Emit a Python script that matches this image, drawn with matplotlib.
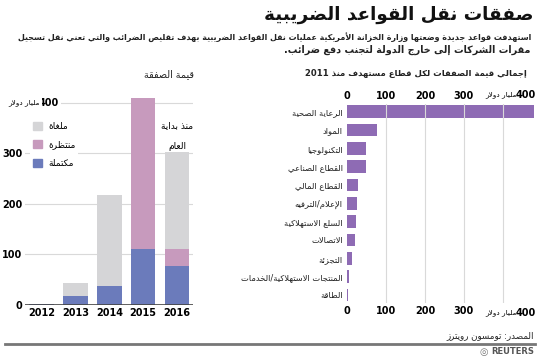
import re
import matplotlib
matplotlib.use("Agg")
import matplotlib.pyplot as plt
from matplotlib.patches import Patch

plt.rcParams['font.family'] = ['DejaVu Sans']

# --- minimal Arabic shaping (presentation forms) + RTL ordering ---
FORMS = {}
_code = 0xFE80
for _cp in list(range(0x0621, 0x063B)) + list(range(0x0641, 0x064B)):
    _ch = chr(_cp)
    if _ch == 'ء':
        _n = 1
    elif _ch in 'آأؤإادذرزةوى':
        _n = 2
    else:
        _n = 4
    FORMS[_ch] = [chr(_code + k) for k in range(_n)]
    _code += _n
LAM_ALEF = {'ا': 0xFEFB, 'أ': 0xFEF7, 'إ': 0xFEF9, 'آ': 0xFEF5}


def ar(text):
    out = []
    i = 0
    n = len(text)
    while i < n:
        c = text[i]
        if c not in FORMS:
            out.append(c)
            i += 1
            continue
        prev = text[i - 1] if i > 0 else ''
        p = prev in FORMS and len(FORMS[prev]) == 4
        if c == 'ل' and i + 1 < n and text[i + 1] in LAM_ALEF:
            lig = LAM_ALEF[text[i + 1]]
            out.append(chr(lig + 1) if p else chr(lig))
            i += 2
            continue
        nxt = text[i + 1] if i + 1 < n else ''
        f = FORMS[c]
        q = len(f) == 4 and nxt in FORMS
        if p and q:
            out.append(f[3])
        elif p:
            out.append(f[1])
        elif q:
            out.append(f[2])
        else:
            out.append(f[0])
        i += 1
    s = ''.join(out)[::-1]
    return re.sub(r'[0-9]+', lambda m: m.group(0)[::-1], s)


# --- data ---
years = ['2012', '2013', '2014', '2015', '2016']
completed = [2, 17, 37, 111, 78]
pending = [0, 0, 0, 299, 33]
cancelled = [0, 26, 180, 0, 191]

sectors = ['الرعاية الصحية', 'المواد', 'التكنولوجيا', 'القطاع الصناعي', 'القطاع المالي',
           'الإعلام/الترفيه', 'السلع الاستهلاكية', 'الاتصالات', 'التجزئة',
           'المنتجات الاستهلاكية/الخدمات', 'الطاقة']
sector_values = [480, 78, 49, 48, 27, 26, 24, 21, 14, 6, 2]

c_blue = '#6b7bbb'
c_pink = '#c79abd'
c_gray = '#d5d5d7'
c_purple = '#8e6bb4'
c_grid = '#d9d9d9'

W, H = 550, 358
fig = plt.figure(figsize=(W / 100, H / 100), dpi=100)
renderer = fig.canvas.get_renderer()


def px(x0, y0, x1, y1):
    # pixel box (top-left origin) -> figure fraction rect
    return [x0 / W, 1 - y1 / H, (x1 - x0) / W, (y1 - y0) / H]


def ftext(x, y, s, width=None, **kw):
    t = fig.text(x / W, 1 - y / H, s, **kw)
    if width:
        # shrink/grow font so the text spans the same width as the reference
        w = t.get_window_extent(renderer).width
        t.set_fontsize(t.get_fontsize() * width / w)
    return t


# header
ftext(533, 15, ar('صفقات نقل القواعد الضريبية'), width=268, ha='right', va='center',
      fontsize=13, fontweight='bold', color='#111')
ftext(531, 37, ar('استهدفت قواعد جديدة وضعتها وزارة الخزانة الأمريكية عمليات نقل القواعد الضريبية بهدف تقليص الضرائب والتي تعني نقل تسجيل'),
      width=518, ha='right', va='center', fontsize=7, fontweight='bold', color='#222')
ftext(531, 50, ar('مقرات الشركات إلى خارج الدولة لتجنب دفع ضرائب.'), width=248,
      ha='right', va='center', fontsize=7, fontweight='bold', color='#222')

# --- left: stacked columns ---
ax1 = fig.add_axes(px(25, 92.5, 193, 305))
x = range(len(years))
ax1.bar(x, completed, width=0.72, color=c_blue, zorder=2)
ax1.bar(x, pending, width=0.72, bottom=completed, color=c_pink, zorder=2)
bot2 = [a + b for a, b in zip(completed, pending)]
ax1.bar(x, cancelled, width=0.72, bottom=bot2, color=c_gray, zorder=2)
ax1.set_xlim(-0.49, 4.47)
ax1.set_ylim(0, 420)
for s in ax1.spines.values():
    s.set_visible(False)
ax1.axhline(0, color='#444', lw=1.2, zorder=3)
for v in [100, 200, 300, 400]:
    ax1.axhline(v, color=c_grid, lw=0.8, zorder=1)
ax1.set_xticks(list(x))
ax1.set_xticklabels(years, fontsize=7, fontweight='bold')
ax1.set_yticks([0, 100, 200, 300])
ax1.set_yticklabels(['0', '100', '200', '300'], fontsize=7, fontweight='bold')
ax1.tick_params(length=0, pad=2)
wb = dict(facecolor='white', edgecolor='none', pad=1.2)
ax1.text((59 - 25) / 168, 400, '400', transform=ax1.get_yaxis_transform(),
         ha='right', va='center', fontsize=7, fontweight='bold', bbox=wb, zorder=4)
ax1.text((40 - 25) / 168, 400, ar('مليار دولار'), transform=ax1.get_yaxis_transform(),
         ha='right', va='center', fontsize=5.3, bbox=wb, zorder=4, clip_on=False)
ax1.text(4, 355, ar('منذ بداية'), ha='center', va='center', fontsize=6.5)
ax1.text(4, 313, ar('العام'), ha='center', va='center', fontsize=6.5)
handles = [Patch(color=c_gray), Patch(color=c_pink), Patch(color=c_blue)]
leg = ax1.legend(handles, [ar('ملغاة'), ar('منتظرة'), ar('مكتملة')],
                 loc='upper left', bbox_to_anchor=(0.03, 0.875), fontsize=6.5,
                 frameon=True, facecolor='white', edgecolor='none', framealpha=1,
                 handlelength=1.0, handleheight=1.0, handletextpad=0.7,
                 labelspacing=1.05, borderpad=0.3, borderaxespad=0)
leg.set_zorder(5)
ftext(194, 74, ar('قيمة الصفقة'), width=50, ha='right', va='center', fontsize=7, color='#222')

# --- right: horizontal bars ---
ax2 = fig.add_axes(px(347, 103.5, 347 + 482 * 0.39, 303.2))
y = range(len(sectors))
ax2.barh(y, sector_values, height=0.69, color=c_purple, zorder=1)
ax2.set_xlim(0, 482)
ax2.set_ylim(10.45, -0.45)
for s in ax2.spines.values():
    s.set_visible(False)
for v in [100, 200, 300, 400]:
    ax2.axvline(v, color=c_grid, lw=0.8, zorder=2)
ax2.set_yticks(list(y))
ax2.set_yticklabels([ar(s) for s in sectors], fontsize=6.0, color='#222')
xt = [0, 100, 200, 300, 400]
ax2.set_xticks(xt)
ax2.set_xticklabels(['0', '100', '200', '300', ''], fontsize=7, fontweight='bold')
ax2.tick_params(length=0, pad=3)
ax2.tick_params(axis='x', labeltop=True, labelbottom=True, pad=2)
for ypx in [95, 313]:
    ftext(536, ypx, '400', ha='right', va='center', fontsize=7, fontweight='bold')
    ftext(517, ypx, ar('مليار دولار'), ha='right', va='center', fontsize=5.3)
ftext(527, 74, ar('إجمالي قيمة الصفقات لكل قطاع مستهدف منذ 2011'), width=222,
      ha='right', va='center', fontsize=7, fontweight='bold', color='#222')

# footer
fig.add_artist(plt.Line2D([5 / W, 535 / W], [1 - 344 / H, 1 - 344 / H], color='#777', lw=2))
ftext(534, 336, ar('المصدر: تومسون رويترز'), ha='right', va='center', fontsize=6.3, color='#222')
ftext(534, 352, 'REUTERS', ha='right', va='center', fontsize=6, fontweight='bold', color='#555')
ftext(488, 352, '◎', ha='right', va='center', fontsize=7, color='#777')

fig.savefig('out.png', dpi=100)
